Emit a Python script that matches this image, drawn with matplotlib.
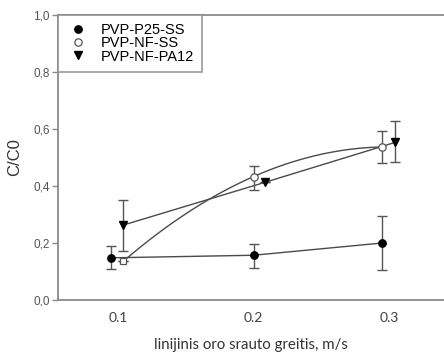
import numpy as np
import matplotlib
matplotlib.use("Agg")
import matplotlib.pyplot as plt
from matplotlib.ticker import FixedLocator, FuncFormatter

# ---- data ----
x_ticks = [0.1, 0.2, 0.3]
x_tick_labels = ["0.1", "0.2", "0.3"]
y_ticks = [0.0, 0.2, 0.4, 0.6, 0.8, 1.0]

p25_x = [0.095, 0.200, 0.295]
p25_y = [0.148, 0.157, 0.200]
p25_lo = [0.109, 0.112, 0.105]
p25_hi = [0.190, 0.198, 0.295]

nf_x = [0.104, 0.200, 0.295]
nf_y = [0.136, 0.433, 0.537]
nf_lo = [0.136, 0.387, 0.480]
nf_hi = [0.136, 0.471, 0.592]

pa_x = [0.104, 0.2085, 0.3045]
pa_y = [0.263, 0.413, 0.553]
pa_lo = [0.173, 0.413, 0.483]
pa_hi = [0.352, 0.413, 0.627]

labels = ["PVP-P25-SS", "PVP-NF-SS", "PVP-NF-PA12"]

# ---- figure ----
fig = plt.figure(figsize=(4.44, 3.55), dpi=100)
ax = fig.add_axes([58/444, 55/355, 1 - 58/444, 285/355])
ax.set_xlim(0.1 - 60/1355, 0.1 + 326/1355)
ax.set_ylim(0.0, 1.0)

line_c = "#4a4a4a"
err_c = "#555555"
spine_c = "#8a8a8a"

def errs(y, lo, hi):
    y = np.asarray(y); return [y - np.asarray(lo), np.asarray(hi) - y]

# lines
ax.plot(p25_x, p25_y, color=line_c, lw=1.0, zorder=2)
ax.plot(pa_x, pa_y, color=line_c, lw=1.0, zorder=2)
coef = np.polyfit(nf_x, nf_y, 2)
xs = np.linspace(nf_x[0], nf_x[-1], 100)
ax.plot(xs, np.polyval(coef, xs), color=line_c, lw=1.0, zorder=2)

# error bars
for xx, yy, lo, hi in [(p25_x, p25_y, p25_lo, p25_hi), (nf_x, nf_y, nf_lo, nf_hi), (pa_x, pa_y, pa_lo, pa_hi)]:
    ax.errorbar(xx, yy, yerr=errs(yy, lo, hi), fmt="none", ecolor=err_c,
                elinewidth=1.0, capsize=3.5, capthick=1.0, zorder=3)

# markers
ax.plot(p25_x, p25_y, "o", color="black", ms=5.3, ls="none", zorder=4, label=labels[0])
ax.plot(nf_x[1:], nf_y[1:], "o", mfc="white", mec="#555555", mew=0.9, ms=5.3, ls="none", zorder=4, label=labels[1])
ax.plot(nf_x[:1], nf_y[:1], "s", mfc="white", mec="#555555", mew=0.9, ms=4.5, ls="none", zorder=4)
ax.plot(pa_x, pa_y, "v", color="black", ms=5.3, ls="none", zorder=4, label=labels[2])

# spines
for s in ["left", "bottom", "top"]:
    ax.spines[s].set_color(spine_c)
    ax.spines[s].set_linewidth(1.3)
ax.spines["right"].set_visible(False)

ax.yaxis.set_major_locator(FixedLocator(y_ticks))
ax.yaxis.set_major_formatter(FuncFormatter(lambda v, p: f"{v:.1f}".replace(".", ",")))
ax.tick_params(axis="y", direction="out", length=4, width=1.0, color=spine_c,
               labelsize=8.5, labelcolor="#555555", pad=2)
for t in ax.get_yticklabels():
    t.set_fontfamily("Liberation Sans")

ax.set_xticks(x_ticks)
ax.set_xticklabels(x_tick_labels, fontfamily="Lato", fontsize=10, color="#404040")
ax.tick_params(axis="x", length=0, pad=9)

ax.set_ylabel("C/C0", fontfamily="Liberation Sans", fontsize=12, color="#333333", labelpad=8)
ax.set_xlabel("linijinis oro srauto greitis, m/s", fontfamily="Lato", fontsize=10.8,
              color="#333333", labelpad=10)

leg = ax.legend(loc="upper left", bbox_to_anchor=(0, 1), borderaxespad=0,
                prop={"family": "Liberation Sans", "size": 10.5},
                frameon=True, fancybox=False, borderpad=0.55, labelspacing=-0.05,
                handlelength=1.6, handletextpad=0.75, handleheight=0.7)
leg.get_frame().set_edgecolor(spine_c)
leg.get_frame().set_linewidth(1.3)

fig.savefig("out.png", dpi=100)
